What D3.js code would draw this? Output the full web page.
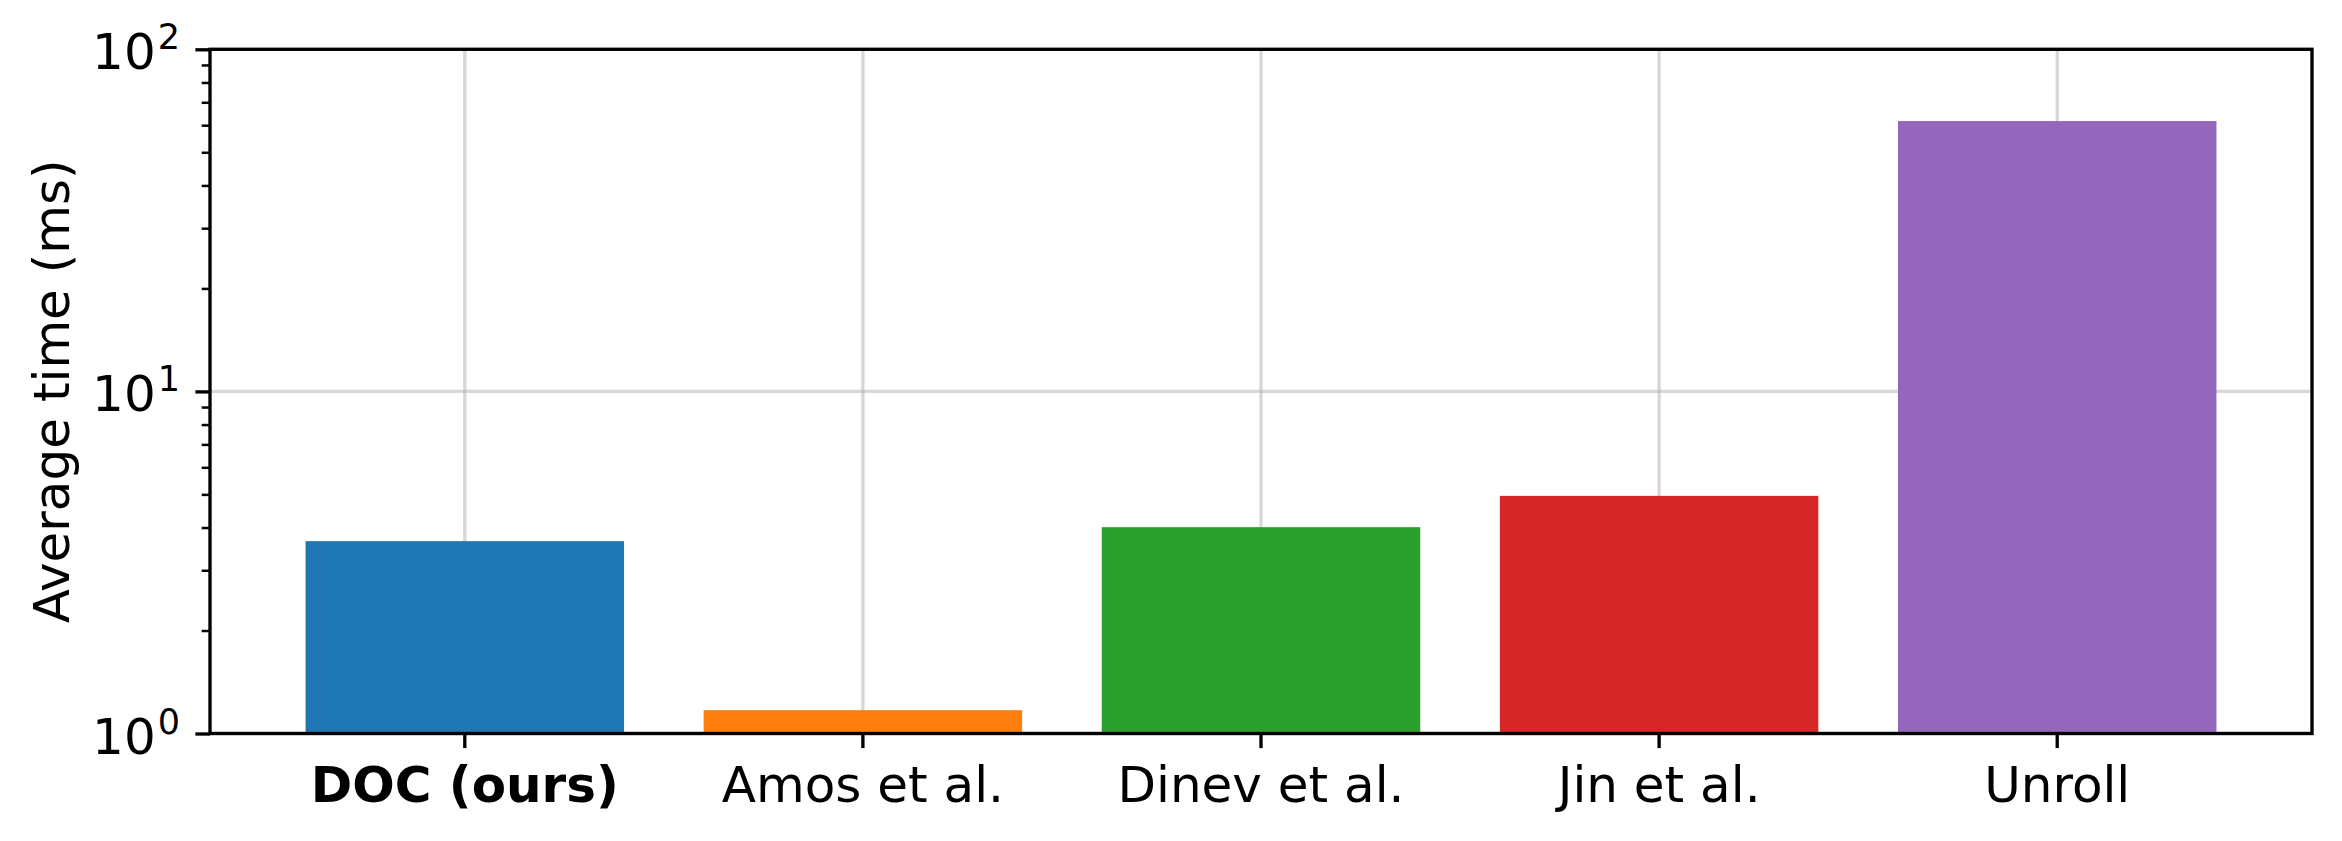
<!DOCTYPE html>
<html>
<head>
<meta charset="utf-8">
<script src="https://cdn.jsdelivr.net/npm/d3@7"></script>
<style>
  html, body { margin: 0; padding: 0; background: #fff; }
  svg { display: block; font-family: "DejaVu Sans", sans-serif; }
</style>
</head>
<body>
<svg id="chart" width="2342" height="841"></svg>
<script>
const categories = ["DOC (ours)", "Amos et al.", "Dinev et al.", "Jin et al.", "Unroll"];
const times = [3.65, 1.17, 4.01, 4.95, 61.7];
const colors = ["#1f77b4", "#ff7f0e", "#2ca02c", "#d62728", "#9467bd"];
const yMajorTicks = [1, 10, 100];
const yMajorExponents = ["0", "1", "2"];
const yLabel = "Average time (ms)";

const W = 2342, H = 841;
const m = { left: 210, right: 2312, top: 49.3, bottom: 733.5 };
const svg = d3.select("#chart");

const x = d3.scaleBand().domain(categories)
  .range([m.left, m.right]).paddingInner(0.2).paddingOuter(0.24);
const y = d3.scaleLog().domain([1, 100]).range([m.bottom, m.top]);

const lw = 3.33;

// grid
const grid = svg.append("g");
grid.selectAll("line.gx").data(categories).join("line")
  .attr("x1", d => x(d) + x.bandwidth() / 2).attr("x2", d => x(d) + x.bandwidth() / 2)
  .attr("y1", m.top).attr("y2", m.bottom)
  .attr("stroke", "#b0b0b0").attr("stroke-opacity", 0.5).attr("stroke-width", lw);
grid.selectAll("line.gy").data(yMajorTicks).join("line")
  .attr("x1", m.left).attr("x2", m.right)
  .attr("y1", d => y(d)).attr("y2", d => y(d))
  .attr("stroke", "#b0b0b0").attr("stroke-opacity", 0.5).attr("stroke-width", lw);

// bars
svg.append("g").selectAll("rect").data(categories).join("rect")
  .attr("x", d => x(d))
  .attr("width", x.bandwidth())
  .attr("y", (d, i) => y(times[i]))
  .attr("height", (d, i) => y(1) - y(times[i]))
  .attr("fill", (d, i) => colors[i]);

// x axis ticks
const xAxis = d3.axisBottom(x).tickSize(14.6).tickSizeOuter(0).tickPadding(14.6).tickFormat("");
const gx = svg.append("g").attr("transform", `translate(0,${m.bottom})`).call(xAxis);
gx.select(".domain").remove();
gx.selectAll(".tick line").attr("stroke", "#000").attr("stroke-width", lw);
svg.append("g").selectAll("text").data(categories).join("text")
  .attr("x", d => x(d) + x.bandwidth() / 2)
  .attr("y", 802)
  .attr("text-anchor", "middle")
  .attr("font-size", 50)
  .attr("font-weight", (d, i) => i === 0 ? "bold" : "normal")
  .attr("fill", "#000")
  .text(d => d);

// y axis: minor ticks
const minorTicks = y.ticks().filter(v => !yMajorTicks.includes(v));
const yMinor = d3.axisLeft(y).tickValues(minorTicks).tickSize(8.3).tickSizeOuter(0).tickFormat("");
const gym = svg.append("g").attr("transform", `translate(${m.left},0)`).call(yMinor);
gym.select(".domain").remove();
gym.selectAll(".tick line").attr("stroke", "#000").attr("stroke-width", 2.5);

// y axis: major ticks
const yMajor = d3.axisLeft(y).tickValues(yMajorTicks).tickSize(14.6).tickSizeOuter(0).tickFormat("");
const gy = svg.append("g").attr("transform", `translate(${m.left},0)`).call(yMajor);
gy.select(".domain").remove();
gy.selectAll(".tick line").attr("stroke", "#000").attr("stroke-width", lw);

const yl = svg.append("g").selectAll("text").data(yMajorTicks).join("text")
  .attr("x", 180)
  .attr("y", d => y(d) + 20)
  .attr("text-anchor", "end")
  .attr("font-size", 50)
  .attr("fill", "#000");
yl.append("tspan").text("10");
yl.append("tspan").attr("dx", 2).attr("dy", -20).attr("font-size", 35)
  .text((d, i) => yMajorExponents[i]);

// y label
svg.append("text")
  .attr("transform", `translate(69,${(m.top + m.bottom) / 2}) rotate(-90)`)
  .attr("text-anchor", "middle")
  .attr("font-size", 50)
  .attr("fill", "#000")
  .text(yLabel);

// frame
svg.append("rect")
  .attr("x", m.left).attr("y", m.top)
  .attr("width", m.right - m.left).attr("height", m.bottom - m.top)
  .attr("fill", "none").attr("stroke", "#000").attr("stroke-width", lw)
  .attr("stroke-linejoin", "miter");
</script>
</body>
</html>
